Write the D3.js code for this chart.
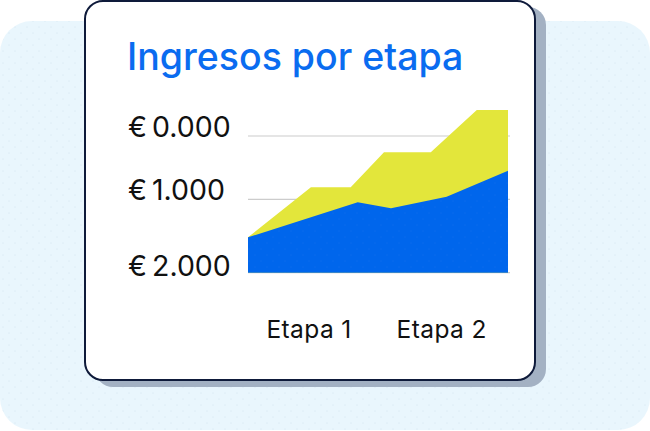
<!DOCTYPE html>
<html>
<head>
<meta charset="utf-8">
<script src="https://cdn.jsdelivr.net/npm/d3@7"></script>
<style>
  html, body { margin: 0; padding: 0; background: #ffffff; }
  svg { display: block; }
  text { font-family: Inter, "Noto Sans", sans-serif; }
</style>
</head>
<body>
<svg id="chart" width="650" height="431"></svg>
<script>
// ---- data ----
const title = "Ingresos por etapa";
const stageLabels = ["Etapa 1", "Etapa 2"];
const stagePositions = [23.5, 74.5];          // position along the timeline (0–100)
const yTickValues = [0, 1000, 2000];
const yTickLabels = ["€ 2.000", "€ 1.000", "€ 0.000"];
// total revenue (yellow) – timeline position / value
const totalX = [0, 24.2, 39.5, 52.3, 70.3, 88, 100];
const totalV = [482, 1190, 1190, 1742, 1742, 2411, 2411];
// base revenue (blue)
const baseX = [0, 42.2, 55, 76.4, 100];
const baseV = [482, 959, 877, 1041, 1452];

// ---- drawing ----
const svg = d3.select("#chart");
const defs = svg.append("defs");
const pat = defs.append("pattern").attr("id", "dots").attr("width", 12).attr("height", 12)
  .attr("patternUnits", "userSpaceOnUse");
pat.append("rect").attr("width", 12).attr("height", 12).attr("fill", "#e9f6fd");
pat.append("circle").attr("cx", 3).attr("cy", 3).attr("r", 0.55).attr("fill", "#d2e5f0");
pat.append("circle").attr("cx", 9).attr("cy", 9).attr("r", 0.55).attr("fill", "#d2e5f0");
const pat2 = defs.append("pattern").attr("id", "dotsBlue").attr("width", 12).attr("height", 12)
  .attr("patternUnits", "userSpaceOnUse");
pat2.append("rect").attr("width", 12).attr("height", 12).attr("fill", "#0066ec");
pat2.append("circle").attr("cx", 3).attr("cy", 3).attr("r", 0.5).attr("fill", "#1570ee");
pat2.append("circle").attr("cx", 9).attr("cy", 9).attr("r", 0.5).attr("fill", "#1570ee");

// background panel
svg.append("rect").attr("x", 0).attr("y", 21).attr("width", 650).attr("height", 409)
  .attr("rx", 32).attr("fill", "url(#dots)");
// card shadow
svg.append("rect").attr("x", 95).attr("y", 7).attr("width", 451).attr("height", 380)
  .attr("rx", 18).attr("fill", "#a3b1c3");
// card
svg.append("rect").attr("x", 85).attr("y", 1).attr("width", 450).attr("height", 379)
  .attr("rx", 18).attr("fill", "#ffffff").attr("stroke", "#0e1a3a").attr("stroke-width", 2);

// title
svg.append("text").attr("x", 127).attr("y", 70)
  .attr("font-size", 37.5).attr("font-weight", 500).attr("fill", "#0a6cf0")
  .text(title);

// scales
const x = d3.scaleLinear().domain([0, 100]).range([248, 508]);
const y = d3.scaleLinear().domain(yTickValues).range([272.7, 199.3, 136]);

// gridlines
const g = svg.append("g");
g.selectAll("line.grid").data(yTickValues).join("line")
  .attr("class", "grid")
  .attr("x1", 248).attr("x2", 510)
  .attr("y1", d => y(d)).attr("y2", d => y(d))
  .attr("stroke", "#cccccc").attr("stroke-width", 1.2);

// areas
const totalData = totalX.map((v, i) => ({ x: v, v: totalV[i] }));
const baseData = baseX.map((v, i) => ({ x: v, v: baseV[i] }));
const area = d3.area().x(d => x(d.x)).y0(y(0)).y1(d => y(d.v));
g.append("path").datum(totalData).attr("d", area).attr("fill", "#e3e63b");
g.append("path").datum(baseData).attr("d", area).attr("fill", "url(#dotsBlue)");

// y labels
svg.selectAll("text.ylab").data(yTickValues).join("text")
  .attr("class", "ylab")
  .attr("x", 128).attr("y", d => y(d) + (d === 0 ? 3.3 : 0.7))
  .attr("font-size", 28.5).attr("fill", "#111111")
  .attr("word-spacing", -3)
  .text((d, i) => yTickLabels[i]);

// x labels
svg.selectAll("text.xlab").data(stageLabels).join("text")
  .attr("class", "xlab")
  .attr("x", (d, i) => x(stagePositions[i])).attr("y", 337.5)
  .attr("text-anchor", "middle")
  .attr("font-size", 24.5).attr("letter-spacing", 0.4).attr("fill", "#111111")
  .text(d => d);
</script>
</body>
</html>
